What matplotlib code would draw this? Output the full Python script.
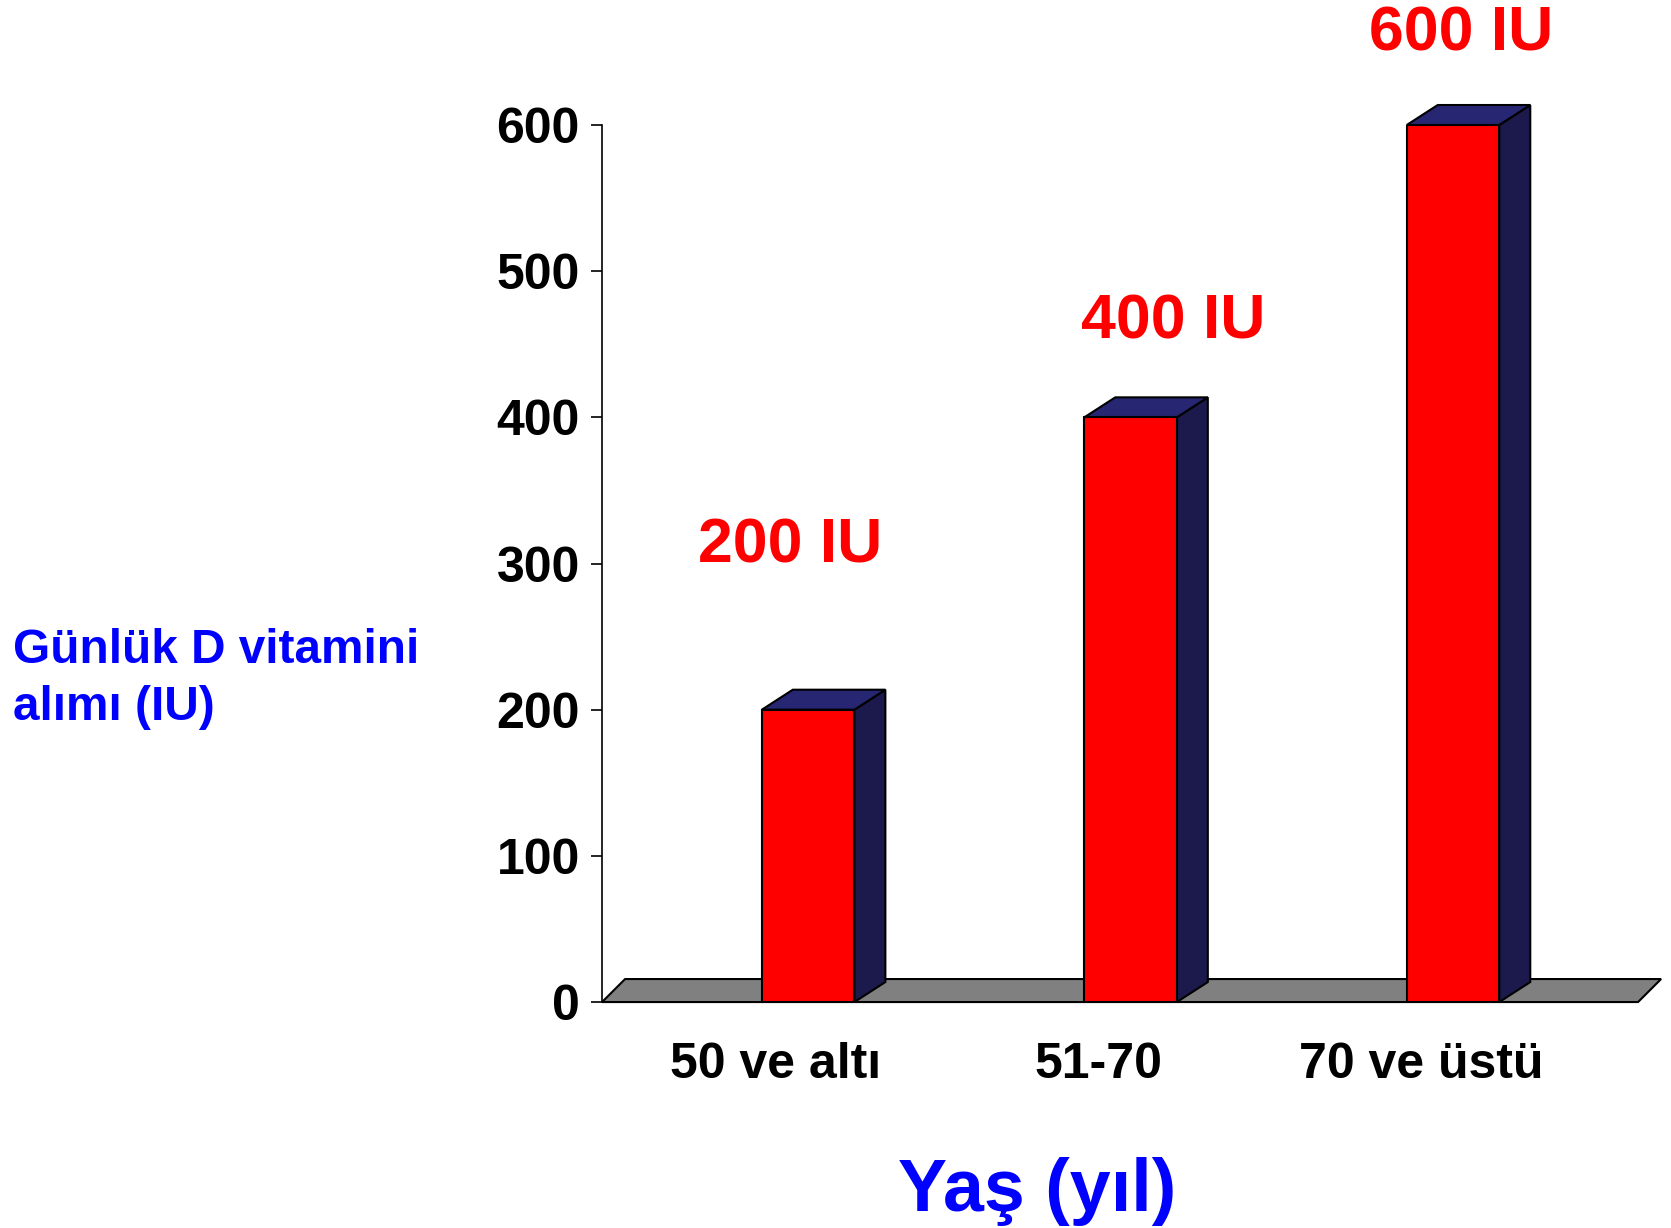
import matplotlib
matplotlib.use("Agg")
import matplotlib.pyplot as plt
from matplotlib.patches import Polygon
import numpy as np

# data
categories = ["50 ve altı", "51-70", "70 ve üstü"]
values = [200, 400, 600]
value_labels = ["200 IU", "400 IU", "600 IU"]
yticks = [0, 100, 200, 300, 400, 500, 600]

plt.rcParams['font.family'] = ['Liberation Sans', 'DejaVu Sans']
plt.rcParams['font.weight'] = 'bold'

fig = plt.figure(figsize=(16.71, 12.28), dpi=100)
ax = fig.add_axes([0.3603, 0.1840, 0.620, 0.7142])

x = np.arange(len(categories))
w = 0.287
ax.set_xlim(-0.639, 2.574)
ax.set_ylim(0, 600)

# pixel -> data scale for the fake 3d depth
px_x = 322.5
px_y = 877 / 600
ddx, ddy = 31 / px_x, 20 / px_y
fdx, fdy = 23 / px_x, 23 / px_y

red = '#ff0000'
side = '#1c1a4c'
top = '#262672'

# floor
x0, x1 = ax.get_xlim()
floor = Polygon([(x0, 0), (x0 + fdx, fdy), (x1 + fdx, fdy), (x1, 0)],
                closed=True, facecolor='#808080', edgecolor='black', lw=1.5,
                clip_on=False, zorder=1)
ax.add_patch(floor)

ax.bar(x, values, width=w, color=red, edgecolor='black', lw=1.5, zorder=3)
for xi, v in zip(x, values):
    r = xi + w / 2
    l = xi - w / 2
    ax.add_patch(Polygon([(r, 0), (r + ddx, ddy), (r + ddx, v + ddy), (r, v)],
                         closed=True, facecolor=side, edgecolor='black', lw=1.5,
                         clip_on=False, zorder=2))
    ax.add_patch(Polygon([(l, v), (l + ddx, v + ddy), (r + ddx, v + ddy), (r, v)],
                         closed=True, facecolor=top, edgecolor='black', lw=1.5,
                         clip_on=False, zorder=2))

# value labels, placed by hand like the slide
lab_dx = [-0.056, 0.133, 0.025]
lab_dy = [112, 65, 62]
for xi, v, t, a, b in zip(x, values, value_labels, lab_dx, lab_dy):
    ax.text(xi + a, v + b, t, color=red, fontsize=45, fontweight='bold',
            ha='center', va='center', clip_on=False)

ax.set_yticks(yticks)
ax.tick_params(axis='y', labelsize=36, length=8, width=1.2, pad=8)
ax.set_xticks(x - 0.1)
ax.set_xticklabels(categories)
ax.tick_params(axis='x', labelsize=36, length=0, pad=29)
for s in ['top', 'right', 'bottom']:
    ax.spines[s].set_visible(False)
ax.spines['left'].set_linewidth(1.2)
ax.patch.set_alpha(0)

fig.text(0.0077, 0.447, "Günlük D vitamini\nalımı (IU)", color='#0000ff',
         fontsize=34.4, fontweight='bold', ha='left', va='center',
         linespacing=1.35)
fig.text(0.6206, 0.030, "Yaş (yıl)", color='#0000ff', fontsize=53,
         fontweight='bold', ha='center', va='center')

fig.savefig("out.png", dpi=100)
